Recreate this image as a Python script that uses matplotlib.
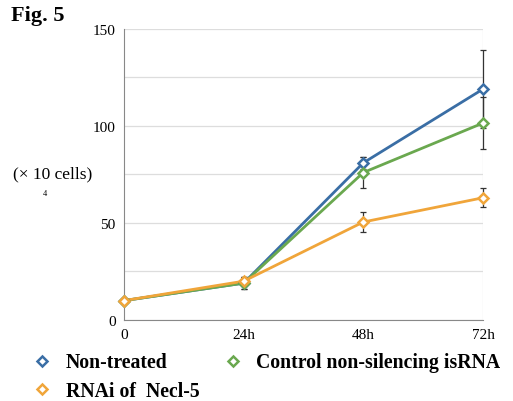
import matplotlib
matplotlib.use("Agg")
import matplotlib.pyplot as plt
from matplotlib.lines import Line2D

plt.rcParams['font.family'] = ['Liberation Serif', 'DejaVu Serif']

#data
timepoints = [0, 24, 48, 72]
tick_labels = ["0", "24h", "48h", "72h"]
non_treated = [10, 19, 81, 119]
non_treated_err = [0, 3, 3, 20]
control = [10, 19, 76, 101.5]
control_err = [0, 3, 8, 13.5]
rnai = [10, 20, 50.5, 63]
rnai_err = [0, 2, 5, 5]

names = ["Non-treated", "Control non-silencing isRNA", "RNAi of  Necl-5"]
colors = ["#3a6ea5", "#6aa84f", "#f0a53a"]

fig = plt.figure(figsize=(5.13, 4.02), dpi=100)
ax = fig.add_axes([0.2417, 0.2015, 0.6998, 0.724])

for vals, errs, col in [(non_treated, non_treated_err, colors[0]),
                        (control, control_err, colors[1]),
                        (rnai, rnai_err, colors[2])]:
    eb = ax.errorbar(timepoints, vals, yerr=errs, fmt="none", ecolor="#333333",
                     elinewidth=0.9, capsize=2, capthick=0.9, zorder=3)
    for part in eb.lines[1] + eb.lines[2]:
        part.set_clip_on(False)
    ax.plot(timepoints, vals, color=col, lw=2, zorder=4, clip_on=False)
    ax.plot(timepoints, vals, ls="none", marker="D", ms=5, mfc="white",
            mec=col, mew=1.8, zorder=5, clip_on=False)

ax.set_xlim(0, 72)
ax.set_ylim(0, 150)
ax.set_xticks(timepoints)
ax.set_xticklabels(tick_labels)
ax.set_yticks([0, 50, 100, 150])
ax.set_yticks([25, 75, 125], minor=True)
ax.tick_params(which="both", length=0, labelsize=11, pad=6)
ax.grid(True, axis="y", which="both", color="#dddddd", lw=0.9)
ax.set_axisbelow(True)
ax.axvline(72, color="#e6e6e6", lw=0.9, zorder=0)
for s in ["top", "right"]:
    ax.spines[s].set_visible(False)
ax.spines["left"].set_color("#888888")
ax.spines["bottom"].set_color("#888888")

fig.text(0.022, 0.96, "Fig. 5", fontsize=16, fontweight="bold", va="center")
fig.text(0.025, 0.565, "(\u00d7 10 cells)", fontsize=12.5, va="center")
fig.text(0.083, 0.518, "4", fontsize=6, va="center")

handles = [Line2D([], [], ls="none", marker="D", ms=5, mfc="white", mec=c, mew=1.8)
           for c in colors]
fig.legend([handles[0], handles[2], handles[1]],
           [names[0], names[2], names[1]],
           ncol=2, loc="lower left", bbox_to_anchor=(0.028, -0.045),
           frameon=False, prop={"size": 14.2, "weight": "bold"},
           handletextpad=0.7, columnspacing=1.2, labelspacing=0.45,
           handlelength=1.0)

fig.savefig("out.png", dpi=100)
